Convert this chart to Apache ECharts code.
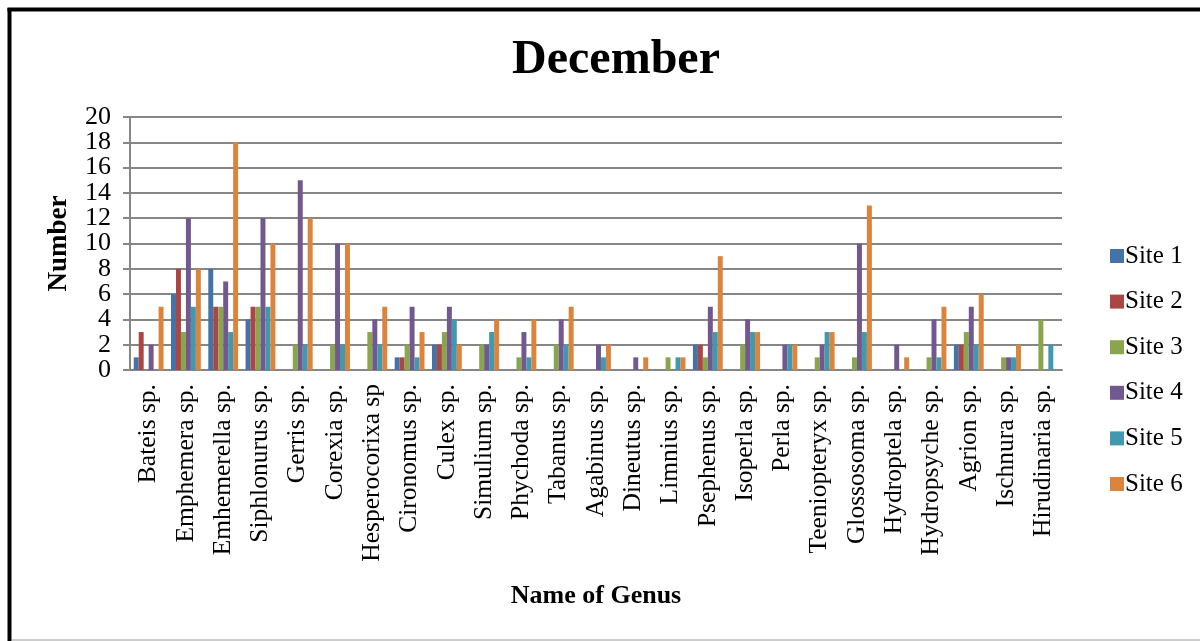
<!DOCTYPE html>
<html>
<head>
<meta charset="utf-8">
<title>December</title>
<script src="https://cdn.jsdelivr.net/npm/echarts@6/dist/echarts.min.js"></script>
<style>
  html, body { margin: 0; padding: 0; background: #ffffff; }
  #chart { width: 1200px; height: 641px; }
</style>
</head>
<body>
<div id="chart"></div>
<script>
// Genus names along the x axis
const genera = [
  'Bateis sp.', 'Emphemera sp.', 'Emhemerella sp.', 'Siphlonurus sp.', 'Gerris sp.',
  'Corexia sp.', 'Hesperocorixa sp', 'Cironomus sp.', 'Culex sp.', 'Simulium sp.',
  'Phychoda sp.', 'Tabanus sp.', 'Agabinus sp.', 'Dineutus sp.', 'Limnius sp.',
  'Psephenus sp.', 'Isoperla sp.', 'Perla sp.', 'Teeniopteryx sp.', 'Glossosoma sp.',
  'Hydroptela sp.', 'Hydropsyche sp.', 'Agrion sp.', 'Ischnura sp.', 'Hirudinaria sp.'
];

// Counts per site, one value per genus
const site1 = [1, 6, 8, 4, 0, 0, 0, 1, 2, 0, 0, 0, 0, 0, 0, 2, 0, 0, 0, 0, 0, 0, 2, 0, 0];
const site2 = [3, 8, 5, 5, 0, 0, 0, 1, 2, 0, 0, 0, 0, 0, 0, 2, 0, 0, 0, 0, 0, 0, 2, 0, 0];
const site3 = [0, 3, 5, 5, 2, 2, 3, 2, 3, 2, 1, 2, 0, 0, 1, 1, 2, 0, 1, 1, 0, 1, 3, 1, 4];
const site4 = [2, 12, 7, 12, 15, 10, 4, 5, 5, 2, 3, 4, 2, 1, 0, 5, 4, 2, 2, 10, 2, 4, 5, 1, 0];
const site5 = [0, 5, 3, 5, 2, 2, 2, 1, 4, 3, 1, 2, 1, 0, 1, 3, 3, 2, 3, 3, 0, 1, 2, 1, 2];
const site6 = [5, 8, 18, 10, 12, 10, 5, 3, 2, 4, 4, 5, 2, 1, 1, 9, 3, 2, 3, 13, 1, 5, 6, 2, 0];

// Value-axis tick labels; the large type sits tightly, so alternate
// labels are carried by two overlaid axes sharing one scale
const yTicksA = [0, 4, 8, 12, 16, 20];
const yTicksB = [2, 6, 10, 14, 18];

const siteNames = ['Site 1', 'Site 2', 'Site 3', 'Site 4', 'Site 5', 'Site 6'];
const siteValues = [site1, site2, site3, site4, site5, site6];
const siteColors = ['#4572A7', '#AA4643', '#89A54E', '#71588F', '#4198AF', '#DB843D'];

const serif = '"Liberation Serif", "Times New Roman", serif';
const yLabelStyle = { margin: 19, fontFamily: serif, fontSize: 26, color: '#000' };

const chart = echarts.init(document.getElementById('chart'), null, { renderer: 'canvas' });

chart.setOption({
  backgroundColor: '#ffffff',
  animation: false,
  title: {
    text: 'December',
    left: 611,
    textAlign: 'center',
    top: 32,
    textStyle: { fontFamily: serif, fontSize: 48, fontWeight: 'bold', color: '#000' }
  },
  legend: {
    orient: 'vertical',
    left: 1105,
    top: 238,
    itemWidth: 14,
    itemHeight: 14,
    itemGap: 19.6,
    icon: 'rect',
    textStyle: { fontFamily: serif, fontSize: 25, lineHeight: 26, color: '#000', padding: [0, 0, 0, -4] },
    data: siteNames
  },
  grid: { left: 130, right: 138, top: 117, bottom: 271, containLabel: false },
  xAxis: {
    type: 'category',
    data: genera,
    name: 'Name of Genus',
    nameLocation: 'middle',
    nameGap: 213,
    nameTextStyle: { fontFamily: serif, fontSize: 26, fontWeight: 'bold', color: '#000' },
    axisLine: { lineStyle: { color: '#868686', width: 2 } },
    axisTick: { show: false },
    axisLabel: {
      interval: 0,
      rotate: 90,
      margin: 14,
      fontFamily: serif,
      fontSize: 25.5,
      color: '#000'
    }
  },
  yAxis: [
    {
      type: 'value',
      position: 'left',
      min: 0,
      max: 20,
      interval: 2,
      name: 'Number',
      nameLocation: 'middle',
      nameRotate: 90,
      nameGap: 57,
      nameTextStyle: { fontFamily: serif, fontSize: 27, fontWeight: 'bold', color: '#000' },
      axisLine: { show: true, lineStyle: { color: '#868686', width: 2 } },
      axisTick: { show: true, length: 7, lineStyle: { color: '#868686', width: 2 } },
      axisLabel: Object.assign({ customValues: yTicksA }, yLabelStyle),
      splitLine: { lineStyle: { color: '#868686', width: 2 } }
    },
    {
      type: 'value',
      position: 'left',
      offset: 0,
      min: 0,
      max: 20,
      interval: 2,
      axisLine: { show: false },
      axisTick: { show: false },
      splitLine: { show: false },
      axisLabel: Object.assign({ customValues: yTicksB }, yLabelStyle)
    }
  ],
  series: siteNames.map((name, i) => ({
    name: name,
    type: 'bar',
    yAxisIndex: 0,
    data: siteValues[i],
    barGap: '0%',
    barCategoryGap: '20%',
    itemStyle: { color: siteColors[i] }
  })),
  graphic: [
    // page frame: heavy black top and left edges, faint bottom edge
    { type: 'line', shape: { x1: 9.5, y1: 8, x2: 9.5, y2: 641 }, style: { stroke: '#000', lineWidth: 4 } },
    { type: 'line', shape: { x1: 7.5, y1: 9.5, x2: 1200, y2: 9.5 }, style: { stroke: '#000', lineWidth: 4 } },
    { type: 'line', shape: { x1: 12, y1: 640, x2: 1200, y2: 640 }, style: { stroke: '#cccccc', lineWidth: 2 } }
  ]
});
</script>
</body>
</html>
